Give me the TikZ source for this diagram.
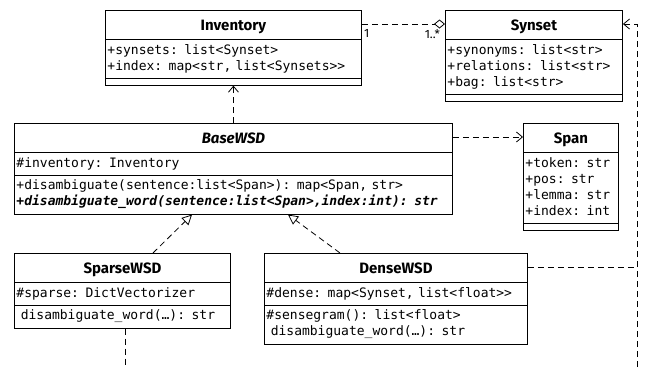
\documentclass[tikz,border=0pt]{standalone}
\usepackage{fontspec}
\setmonofont{DejaVu Sans Mono}
\newfontfamily\umlsans{Fira Sans}
\usetikzlibrary{arrows.meta,shapes.multipart}

\newcommand\classfont{\ttfamily\fontsize{13}{16}\selectfont}
\newcommand\classname[1]{\makebox[\hsize]{\umlsans\bfseries\fontsize{15}{16}\selectfont\rule[-5pt]{0pt}{22pt}#1}}

\tikzset{
	umlclass/.style={draw, line width=0.9pt, rectangle split, rectangle split parts=3,
		rectangle split empty part height=1pt, rectangle split empty part depth=0pt,
		inner xsep=2pt, inner ysep=3pt, anchor=north west, align=left, font=\classfont},
	dep/.style={line width=0.8pt, dash pattern=on 6pt off 4pt},
	uses/.style={dep, -{Straight Barb[length=6pt,width=10pt]}},
	realizes/.style={dep, -{Triangle[open,length=10pt,width=10pt]}},
	aggr/.style={dep, -{Diamond[open,length=11pt,width=9pt]}},
	mult/.style={font=\umlsans\fontsize{12}{14}\selectfont, inner sep=1pt}
}

\begin{document}
\begin{tikzpicture}[x=1pt, y=-1pt]
			%%%%% START %%%%%
			\useasboundingbox (0,0) rectangle (647,367);
			
			\node[umlclass, text width=252pt] (inv) at (105,10) {\classname{Inventory}
				\nodepart{two}\strut+synsets: list<Synset>\\\strut+index: map<str, list<Synsets>>
				\nodepart{three}};
			
			\node[umlclass, text width=173pt] (syn) at (445,10) {\classname{Synset}
				\nodepart{two}\strut+synonyms: list<str>\\\strut+relations: list<str>\\\strut+bag: list<str>
				\nodepart{three}};
			
			\node[umlclass, text width=434pt] (base) at (14,123) {\classname{\itshape BaseWSD}
				\nodepart{two}\strut\#inventory: Inventory
				\nodepart{three}\strut+disambiguate(sentence:list<Span>): map<Span, str>\\
				\strut{\bfseries\itshape +disambiguate\_word(sentence:list<Span>,index:int): str}};
			
			\node[umlclass, text width=91pt] (span) at (523,123) {\classname{Span}
				\nodepart{two}\strut+token: str\\\strut+pos: str\\\strut+lemma: str\\\strut+index: int
				\nodepart{three}};
			
			\node[umlclass, text width=212pt] (sparse) at (14,253) {\classname{SparseWSD}
				\nodepart{two}\strut\#sparse: DictVectorizer
				\nodepart{three}\strut\ disambiguate\_word(…): str};
			
			\node[umlclass, text width=259pt] (dense) at (264,253) {\classname{DenseWSD}
				\nodepart{two}\strut\#dense: map<Synset, list<float>>
				\nodepart{three}\strut\#sensegram(): list<float>\\\strut\ disambiguate\_word(…): str};
			
			%%%%% CONNECTORS %%%%%
			\coordinate (railtop) at (637,24);
			\coordinate (railend) at (637,367);
			\coordinate (sparseout) at (125,367);
			
			\draw[aggr] (inv.east |- 0,24) -- (syn.west |- 0,24);
			\node[mult, anchor=north west] (m1) at (363,28) {1};
			\node[mult, anchor=north east] (m2) at (441,28) {1..*};
			
			\draw[uses] (base.north) -- (inv.south);
			\draw[uses] (base.east |- 0,137) -- (span.west |- 0,137);
			
			\draw[realizes] ([xshift=139pt]sparse.north west) -- ([xshift=178pt]base.south west);
			\draw[realizes] ([xshift=76pt]dense.north west) -- ([xshift=274pt]base.south west);
			
			\draw[dep] (sparse.south -| sparseout) -- (sparseout);
			\draw[dep] (dense.east |- 0,267) -- (railtop |- 0,267);
			\draw[uses] (railend) -- (railtop) -- (syn.east |- railtop);
			%%%%% END %%%%%
\end{tikzpicture}
\end{document}
